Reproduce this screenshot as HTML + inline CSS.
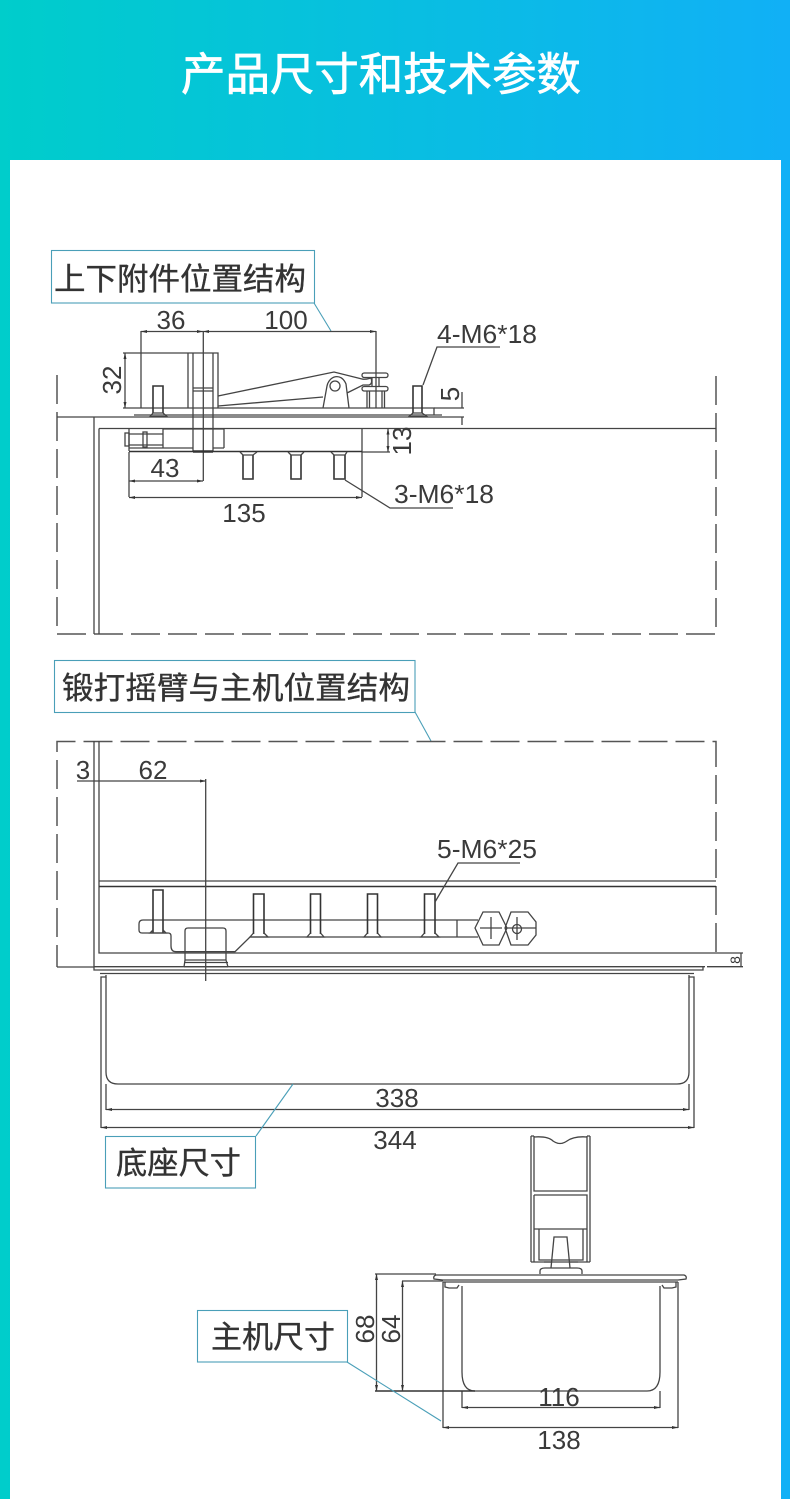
<!DOCTYPE html>
<html><head><meta charset="utf-8">
<style>
html,body{margin:0;padding:0;background:#fff}
svg{display:block}
.c{font-family:"Liberation Sans","Noto Sans CJK SC",sans-serif;fill:#333;stroke:#333;stroke-width:.35}
.n{font-family:"Liberation Sans",sans-serif;font-size:26px;fill:#3a3a3a}
.m{text-anchor:middle}
.l{fill:none;stroke:#444;stroke-width:1.3}
.k{fill:none;stroke:#333;stroke-width:1.6}
.t{fill:none;stroke:#4a9fb8;stroke-width:1.1}
.b{fill:#fff;stroke:#4a9fb8;stroke-width:1.1}
.d{fill:none;stroke:#555;stroke-width:1.5;stroke-dasharray:29 8}
</style></head>
<body>
<svg width="790" height="1499" viewBox="0 0 790 1499" xmlns="http://www.w3.org/2000/svg">
<defs>
<linearGradient id="g" x1="0" x2="1" y1="0" y2="0"><stop offset="0" stop-color="#00cdcb"/><stop offset="1" stop-color="#11b0f6"/></linearGradient>
<marker id="a" viewBox="0 0 6 4" refX="6" refY="2" markerWidth="6" markerHeight="4" orient="auto-start-reverse" markerUnits="userSpaceOnUse"><path d="M0 .5L6 2L0 3.5z" fill="#333"/></marker>
</defs>
<rect width="790" height="1499" fill="url(#g)"/>
<rect x="10" y="160" width="771" height="1339" fill="#fff"/>
<text x="181" y="90" font-size="45" textLength="400" lengthAdjust="spacingAndGlyphs" font-family="'Liberation Sans','Noto Sans CJK SC',sans-serif" fill="#fff" stroke="#fff" stroke-width=".7">产品尺寸和技术参数</text>

<!-- Section 1 -->
<path class="t" d="M314 303L331 331"/>
<rect class="b" x="51.5" y="250.5" width="263" height="52.5"/>
<text class="c" x="54" y="290" font-size="31" textLength="252" lengthAdjust="spacingAndGlyphs">上下附件位置结构</text>

<path class="d" d="M57 375V634H716V375"/>
<path class="l" d="M57 417H134M99 428.5H716M94 417V634M99 428.5V634"/>
<!-- dims -->
<path class="l" d="M141 331V408M376 331V408M203.3 331V481M123 353H188"/>
<path class="l" marker-start="url(#a)" marker-end="url(#a)" d="M141 331.5H203"/>
<path class="l" marker-start="url(#a)" marker-end="url(#a)" d="M203 331.5H376"/>
<path class="l" marker-start="url(#a)" marker-end="url(#a)" d="M125 353V408"/>
<path class="l" d="M434 408H464M462 392V408M442 417H464M462 417V425"/>
<path class="l" marker-start="url(#a)" marker-end="url(#a)" d="M388 428.5V452"/>
<path class="l" d="M362 452H390M362 428V497M129 452V497"/>
<path class="l" marker-start="url(#a)" marker-end="url(#a)" d="M129 481H203"/>
<path class="l" marker-start="url(#a)" marker-end="url(#a)" d="M129 497.5H362"/>
<path class="l" d="M423 385L437 347H500"/>
<path class="l" d="M345 480L390 508H453"/>
<!-- plate -->
<path class="l" d="M123 408H434V415M134 417H442M134 415H442M188 353V408"/>
<!-- hinge -->
<path class="l" d="M188 353H218V408M193 353V452M213 353V452M193 388H213M193 391H213"/>
<!-- arm -->
<path class="l" d="M218 396L334 372L362 379C366 380 370 378 371 378C372 381 372 384 369 385L363 385L347 393M218 406L323 397"/>
<path class="l" d="M323 408L327 386C329 376 341 372 346 384L349 408"/>
<circle class="l" cx="335" cy="386" r="5"/>
<rect class="l" x="362" y="373" width="26" height="4.5" rx="2.2"/>
<rect class="l" x="362" y="386.5" width="26" height="4.5" rx="2.2"/>
<path class="l" d="M367 391V408M369.5 391V408M382 391V408M384.5 391V408M372 378V386M379 378V386"/>
<!-- top screws -->
<path class="k" d="M153 413V386H163V413"/>
<path class="l" d="M153 413L150 416.5H167L163 413M153 413H163"/>
<path class="k" d="M413 413V386H422V413"/>
<path class="l" d="M413 413L409 416.5H427L422 413M413 413H422"/>
<!-- lower body -->
<path class="l" d="M163 448V429H224V448M129 434H163M129 445H163M129 429V451"/>
<rect class="l" x="125" y="433" width="4" height="13"/>
<rect class="l" x="143" y="432" width="4" height="15"/>
<path class="l" d="M129 448H193M213 448H224"/>
<path class="k" d="M129 451.5H362"/>
<path class="k" d="M193 451.5H213" style="stroke-width:2.5"/>
<!-- bottom screws -->
<path class="k" d="M243 455V479H253V455M291 455V479H301V455M334 455V479H345V455"/>
<path class="l" d="M240 452L243 455H253L257 452M288 452L291 455H301L304 452M331 452L334 455H345L347 452M243 479H253M291 479H301M334 479H345"/>
<text class="n m" x="171" y="329">36</text>
<text class="n m" x="286" y="329">100</text>
<text class="n" x="437" y="343" textLength="100" lengthAdjust="spacingAndGlyphs">4-M6*18</text>
<text class="n m" transform="translate(121,380) rotate(-90)">32</text>
<text class="n m" transform="translate(459,394) rotate(-90)">5</text>
<text class="n m" transform="translate(411,441) rotate(-90)">13</text>
<text class="n m" x="165" y="477">43</text>
<text class="n m" x="244" y="522">135</text>
<text class="n" x="394" y="503" textLength="100" lengthAdjust="spacingAndGlyphs">3-M6*18</text>

<!-- Section 2 -->
<path class="t" d="M415 712L431 741"/>
<rect class="b" x="54.5" y="660.5" width="360.5" height="52"/>
<text class="c" x="62" y="699" font-size="31" textLength="348" lengthAdjust="spacingAndGlyphs">锻打摇臂与主机位置结构</text>

<path class="d" d="M716 952V741.5H57V967"/>
<path class="l" d="M57 967H94M94 741V970H100M99 741V953H743"/>
<path class="l" d="M99 881H716"/>
<path class="k" d="M99 886.5H716"/>
<path class="l" d="M94 966.7H705M707 966.7H743M100 970H703V966.7M100 973.5H694"/>
<path class="l" d="M741 953V967"/>
<text x="735" y="960" text-anchor="middle" dominant-baseline="central" transform="rotate(-90 735 960)" font-size="14" font-family="'Liberation Sans',sans-serif" fill="#333">8</text>
<!-- dim 3/62 -->
<path class="l" d="M77 781H99"/>
<path class="l" marker-end="url(#a)" d="M99 781H206"/>
<path class="l" d="M205.7 779V981"/>
<text class="n m" x="83" y="779">3</text>
<text class="n m" x="153" y="779">62</text>
<!-- arm -->
<path class="l" d="M458 920H143Q139 920 139 924V930Q139 933 142 933H168Q171 933 171 936V946Q171 951.7 176 951.7H235L250 937H478M457 920V937M458 920H478"/>
<!-- nut -->
<path class="l" d="M185 960V931Q185 928 188 928H223Q226 928 226 931V960M185 960H226M185 960L184 967M226 960L228 967M184 962.5H228"/>
<path class="l" d="M184 966.7H228" style="stroke-width:1.4"/>
<!-- screws -->
<path class="k" d="M153 933V890H163V933"/>
<path class="l" d="M153 930L150 933H166L163 930"/>
<path class="k" d="M253.5 934V894H264V934"/>
<path class="l" d="M253.5 933L250 937H268L264 933"/>
<path class="k" d="M310.5 934V894H320.5V934"/>
<path class="l" d="M310.5 933L307 937H324L320.5 933"/>
<path class="k" d="M367.5 934V894H377.5V934"/>
<path class="l" d="M367.5 933L364 937H381L377.5 933"/>
<path class="k" d="M424.5 934V894H435V934"/>
<path class="l" d="M424.5 933L421 937H439L435 933"/>
<path class="l" d="M435 902L458 863H520"/>
<text class="n" x="437" y="858" textLength="100" lengthAdjust="spacingAndGlyphs">5-M6*25</text>
<!-- hex -->
<path class="l" d="M475 928L483 912H499L507 928L499 945H483ZM491 917V939M480 928H502"/>
<path class="l" d="M505 928L511 912H528L536 922V935L528 945H511ZM505 928H536M517 917V940"/>
<circle class="l" cx="517" cy="929" r="4.5"/>
<!-- tray -->
<path class="l" d="M101 1128V977H106V975M694 1128V977H689V975"/>
<path class="l" d="M106 977V1072Q106 1084 118 1084H677Q689 1084 689 1072V977"/>
<path class="l" d="M106 1084V1110M689 1084V1110"/>
<path class="l" marker-start="url(#a)" marker-end="url(#a)" d="M106 1109.5H689"/>
<path class="l" marker-start="url(#a)" marker-end="url(#a)" d="M101 1127.5H694"/>
<text class="n m" x="397" y="1107">338</text>
<text class="n m" x="395" y="1149">344</text>
<path class="t" d="M256 1136L293 1084"/>
<rect class="b" x="105.5" y="1136.5" width="150" height="51.5"/>
<text class="c" x="116" y="1174" font-size="31" textLength="125" lengthAdjust="spacingAndGlyphs">底座尺寸</text>

<!-- Host -->
<path class="l" d="M531 1136V1262M534 1136V1191H587V1136M590 1136V1262M531 1136H534M587 1136H590"/>
<path class="l" d="M534 1137Q548 1136 553 1141Q560 1146 567 1141Q574 1136 587 1137"/>
<path class="l" d="M534 1195H587V1262M534 1195V1262M534 1229H587M539 1229V1260H583V1229M531 1262H551M570 1262H590"/>
<path class="l" d="M551 1268L554 1237H567L570 1268M544 1262H578"/>
<path class="l" d="M540 1274V1271Q540 1268 545 1268H577Q582 1268 582 1271V1274"/>
<path class="l" d="M436 1275H684Q687 1276 686 1279L678 1280H443L434 1279Q433 1276 436 1275Z"/>
<path class="l" d="M443 1282H678M443 1282V1428M678 1282V1428"/>
<path class="l" d="M445 1282V1287L449 1288H457L459 1285M676 1282V1287L672 1288H664L662 1285"/>
<path class="l" d="M462 1286V1372Q462 1391 475 1391H647Q660 1391 660 1372V1286"/>
<path class="l" d="M462 1391V1408M660 1391V1408"/>
<path class="l" d="M375 1274H436M402 1281H443"/>
<path class="k" d="M375 1391H475"/>
<path class="l" marker-start="url(#a)" marker-end="url(#a)" d="M376.5 1274V1391"/>
<path class="l" marker-start="url(#a)" marker-end="url(#a)" d="M402.5 1281V1391"/>
<path class="l" marker-start="url(#a)" marker-end="url(#a)" d="M462 1407.5H660"/>
<path class="l" marker-start="url(#a)" marker-end="url(#a)" d="M443 1427.5H678"/>
<text class="n m" x="559" y="1406">116</text>
<text class="n m" x="559" y="1449">138</text>
<text class="n m" transform="translate(374,1329) rotate(-90)">68</text>
<text class="n m" transform="translate(400,1329) rotate(-90)">64</text>
<path class="t" d="M347 1362L441 1421"/>
<rect class="b" x="197.5" y="1310.5" width="150" height="51.5"/>
<text class="c" x="211" y="1348" font-size="31" textLength="124" lengthAdjust="spacingAndGlyphs">主机尺寸</text>
</svg>
</body></html>
